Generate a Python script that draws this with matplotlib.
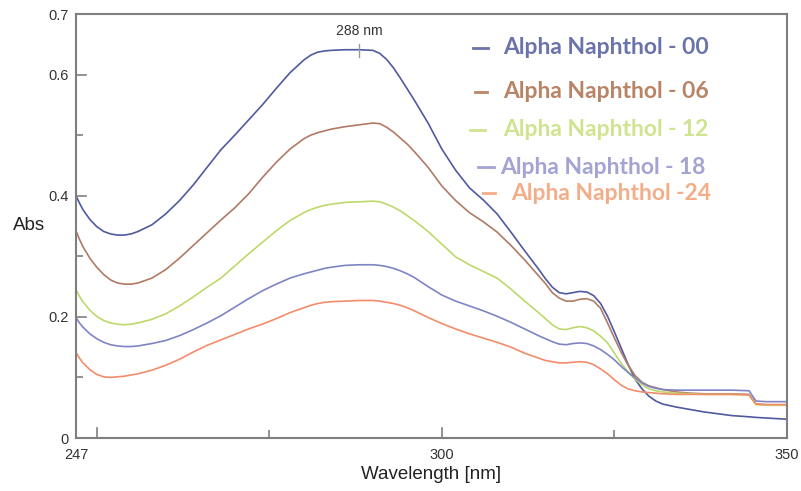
import matplotlib
matplotlib.use("Agg")
import matplotlib.pyplot as plt
from matplotlib.ticker import FixedLocator

plt.rcParams["font.family"] = ["Liberation Sans", "DejaVu Sans"]

# Wavelength grid (nm)
wavelength = [247, 247.5, 248, 249, 250, 251, 252, 253, 254, 255, 256,
              258, 260, 262, 264, 266, 268, 270, 272, 274, 276, 278, 280,
              281, 282, 283, 284, 286, 288, 290,
              291, 292, 293, 294, 295, 296, 298, 300,
              302, 304, 306, 308, 310, 312, 314,
              315, 316, 317, 318, 319, 320, 321, 322, 323, 324, 325, 326, 327, 328,
              329, 330, 331, 332,
              334, 336, 338, 340, 342, 344.5, 345.5, 347, 350]

# Absorbance of each sample
abs_00 = [0.400, 0.388, 0.377, 0.361, 0.349, 0.341, 0.337, 0.335, 0.335, 0.337, 0.341,
          0.352, 0.370, 0.392, 0.418, 0.447, 0.476, 0.500, 0.525, 0.550, 0.577, 0.603, 0.624,
          0.632, 0.637, 0.639, 0.640, 0.641, 0.641, 0.640,
          0.635, 0.625, 0.611, 0.594, 0.576, 0.558, 0.520, 0.477,
          0.442, 0.413, 0.393, 0.370, 0.340, 0.309, 0.279,
          0.263, 0.249, 0.240, 0.238, 0.240, 0.242, 0.241, 0.235, 0.222, 0.201, 0.175, 0.148,
          0.121, 0.097, 0.081, 0.069, 0.061, 0.056,
          0.051, 0.047, 0.043, 0.040, 0.037, 0.035, 0.034, 0.033, 0.031]
abs_06 = [0.342, 0.328, 0.316, 0.297, 0.282, 0.270, 0.261, 0.256, 0.254, 0.254, 0.256,
          0.264, 0.278, 0.297, 0.318, 0.339, 0.360, 0.380, 0.403, 0.430, 0.455, 0.477, 0.494,
          0.500, 0.504, 0.507, 0.510, 0.514, 0.517, 0.520,
          0.519, 0.513, 0.505, 0.495, 0.485, 0.473, 0.447, 0.416,
          0.392, 0.372, 0.357, 0.340, 0.318, 0.294, 0.268,
          0.255, 0.240, 0.231, 0.226, 0.226, 0.229, 0.230, 0.226, 0.214, 0.190, 0.165, 0.141,
          0.120, 0.103, 0.092, 0.086, 0.083, 0.080,
          0.076, 0.074, 0.073, 0.073, 0.073, 0.072, 0.056, 0.055, 0.055]
abs_12 = [0.245, 0.234, 0.225, 0.211, 0.201, 0.194, 0.190, 0.188, 0.187, 0.188, 0.190,
          0.196, 0.205, 0.218, 0.233, 0.249, 0.264, 0.284, 0.304, 0.323, 0.342, 0.359, 0.372,
          0.377, 0.381, 0.384, 0.386, 0.389, 0.390, 0.391,
          0.390, 0.386, 0.381, 0.375, 0.367, 0.359, 0.341, 0.320,
          0.299, 0.286, 0.275, 0.264, 0.246, 0.226, 0.207,
          0.197, 0.187, 0.180, 0.179, 0.182, 0.184, 0.182, 0.177, 0.168, 0.157, 0.140, 0.123,
          0.109, 0.097, 0.088, 0.081, 0.078, 0.076,
          0.074, 0.073, 0.072, 0.072, 0.072, 0.071, 0.055, 0.054, 0.054]
abs_18 = [0.199, 0.190, 0.183, 0.172, 0.164, 0.158, 0.154, 0.152, 0.151, 0.151, 0.152,
          0.156, 0.161, 0.169, 0.179, 0.190, 0.202, 0.216, 0.230, 0.243, 0.254, 0.264, 0.271,
          0.274, 0.277, 0.280, 0.282, 0.285, 0.286, 0.286,
          0.285, 0.283, 0.280, 0.276, 0.271, 0.265, 0.250, 0.236,
          0.226, 0.218, 0.210, 0.201, 0.191, 0.180, 0.169,
          0.164, 0.159, 0.155, 0.154, 0.156, 0.157, 0.156, 0.152, 0.146, 0.138, 0.129, 0.118,
          0.108, 0.099, 0.091, 0.085, 0.082, 0.080,
          0.079, 0.079, 0.079, 0.079, 0.079, 0.078, 0.061, 0.060, 0.060]
abs_24 = [0.141, 0.132, 0.124, 0.113, 0.105, 0.101, 0.100, 0.101, 0.102, 0.104, 0.106,
          0.112, 0.120, 0.130, 0.142, 0.153, 0.162, 0.171, 0.180, 0.188, 0.197, 0.207, 0.215,
          0.219, 0.222, 0.224, 0.225, 0.226, 0.227, 0.227,
          0.226, 0.224, 0.222, 0.219, 0.215, 0.210, 0.199, 0.189,
          0.180, 0.172, 0.165, 0.158, 0.150, 0.140, 0.132,
          0.128, 0.126, 0.124, 0.124, 0.125, 0.126, 0.125, 0.121, 0.114, 0.106, 0.096, 0.087,
          0.081, 0.078, 0.076, 0.075, 0.074, 0.073,
          0.072, 0.072, 0.072, 0.072, 0.072, 0.071, 0.056, 0.055, 0.055]

labels = ["Alpha Naphthol - 00", "Alpha Naphthol - 06", "Alpha Naphthol - 12",
          "Alpha Naphthol - 18", "Alpha Naphthol -24"]
line_colors = ["#4f5aa0", "#b07a64", "#bcd96a", "#7e84c4", "#f28c6a"]
text_colors = ["#6a73aa", "#b98466", "#cfe48e", "#a3a4d2", "#f3ad88"]

peak_nm = 288
x_ticklabels = ["247", "300", "350"]
y_ticklabels = ["0", "0.2", "0.4", "0.6", "0.7"]

fig = plt.figure(figsize=(8.01, 4.91), dpi=100)
ax = fig.add_axes([76 / 801, 53 / 491, 711 / 801, 424 / 491])

series = [abs_00, abs_06, abs_12, abs_18, abs_24]
for ys, c in zip(series, line_colors):
    ax.plot(wavelength, ys, color=c, lw=1.2, solid_joinstyle="round")

ax.set_xlim(247, 350)
ax.set_ylim(0, 0.7)

spine_c = "#7f7f7f"
for s in ax.spines.values():
    s.set_color(spine_c)
    s.set_linewidth(1.5)

# x ticks: labels at the ends and 300, inward tick marks every 25 nm
ax.xaxis.set_major_locator(FixedLocator([247, 300, 350]))
ax.set_xticklabels(x_ticklabels)
ax.xaxis.set_minor_locator(FixedLocator([275, 325]))
ax.tick_params(axis="x", which="major", direction="in", length=0, pad=7,
               labelsize=10.5, colors="#333333")
ax.tick_params(axis="x", which="minor", direction="in", length=6, width=1.2, color=spine_c)
for xv in (250, 300):
    ax.plot([xv, xv], [0, 10 / 604], color=spine_c, lw=1.2, clip_on=False)

ax.yaxis.set_major_locator(FixedLocator([0, 0.2, 0.4, 0.6, 0.7]))
ax.set_yticklabels(y_ticklabels)
ax.yaxis.set_minor_locator(FixedLocator([0.1, 0.3, 0.5]))
ax.tick_params(axis="y", which="major", direction="in", length=0, pad=5,
               labelsize=10.5, colors="#333333")
ax.tick_params(axis="y", which="minor", direction="in", length=5, width=1.2, color=spine_c)
for yv in (0.2, 0.4, 0.6):
    ax.plot([247, 247 + 10 / 6.92], [yv, yv], color=spine_c, lw=1.2, clip_on=False)

ax.set_xlabel("Wavelength [nm]", fontsize=13.5, color="#222222", labelpad=3)
ax.set_ylabel("Abs", fontsize=13.5, color="#222222", rotation=0, labelpad=14, va="center")

# peak marker
peak_val = max(abs_00)
ax.plot([peak_nm, peak_nm], [peak_val - 0.012, peak_val + 0.010], color="#999999", lw=1)
ax.text(peak_nm, peak_val + 0.019, f"{peak_nm} nm", ha="center", va="bottom",
        fontsize=10, color="#333333")

# legend entries as coloured dashes and text
leg_y = [48, 92, 130, 167, 193]
dash_x = [(473, 488), (475, 487), (470, 485), (478, 494), (483, 495)]
text_x = [503, 503, 503, 500, 511]
for lab, lc, tc, yy, (d0, d1), tx in zip(labels, line_colors, text_colors, leg_y, dash_x, text_x):
    fy = 1 - yy / 491
    fig.add_artist(plt.Line2D([d0 / 801, d1 / 801], [fy, fy], color=tc, lw=2))
    fig.text(tx / 801, fy, lab, color=tc, fontsize=16.5, fontweight="bold",
             family="Lato", ha="left", va="center")

fig.savefig("out.png", dpi=100, facecolor="white")
